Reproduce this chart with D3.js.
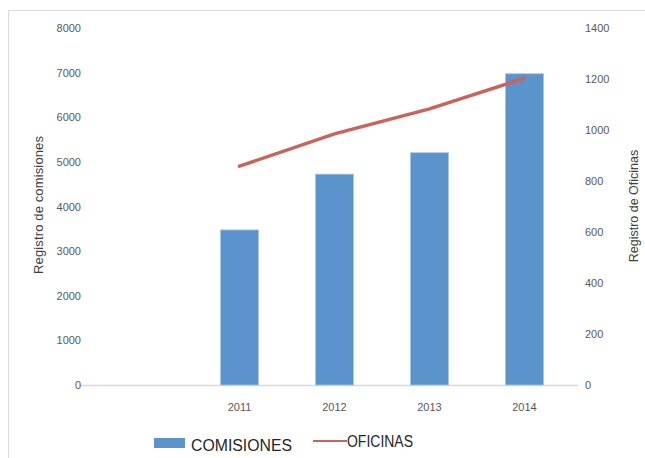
<!DOCTYPE html>
<html>
<head>
<meta charset="utf-8">
<script src="https://cdn.jsdelivr.net/npm/d3@7"></script>
<style>
  body{margin:0;background:#fff;}
  svg text{font-family:"Liberation Sans",Arial,sans-serif;}
</style>
</head>
<body>
<svg id="chart" width="645" height="458"></svg>
<script>
//chart data
var years = ["", "2011", "2012", "2013", "2014"];
var comisiones = [null, 3475, 4725, 5205, 6975];
var oficinas = [null, 858, 985, 1083, 1203];
var leftTicks = [0,1000,2000,3000,4000,5000,6000,7000,8000];
var rightTicks = [0,200,400,600,800,1000,1200,1400];

var svg = d3.select("#chart");

//outer frame (only top and left edges are visible)
svg.append("path")
  .attr("d","M8.5,458 L8.5,10.5 L645,10.5")
  .attr("fill","none")
  .attr("stroke","#d9d9d9");

let x = d3.scaleBand().domain(years).range([97,572]).paddingInner(0.6).paddingOuter(0.3);
let yL = d3.scaleLinear().domain([0,8000]).range([385,28]);
let yR = d3.scaleLinear().domain([0,1400]).range([385,28]);

//baseline
svg.append("line")
  .attr("x1",79).attr("x2",578)
  .attr("y1",yL(0)+0.5).attr("y2",yL(0)+0.5)
  .attr("stroke","#d9d9d9").attr("stroke-width",1.3);

//left ticks
svg.append("g").selectAll("text").data(leftTicks).enter().append("text")
  .attr("x",81)
  .attr("y",d => yL(d)+4)
  .attr("text-anchor","end")
  .attr("font-size",11)
  .attr("fill","#595959")
  .text(d => d);

//right ticks
svg.append("g").selectAll("text").data(rightTicks).enter().append("text")
  .attr("x",585)
  .attr("y",d => yR(d)+4)
  .attr("font-size",11)
  .attr("fill","#595959")
  .text(d => d);

//category labels
svg.append("g").selectAll("text").data(years).enter().append("text")
  .attr("x",d => x(d)+x.bandwidth()/2)
  .attr("y",411)
  .attr("text-anchor","middle")
  .attr("font-size",11)
  .attr("fill","#595959")
  .text(d => d);

//bars
svg.append("g").selectAll("rect").data(years.map((d,i) => [d,comisiones[i]]).filter(d => d[1]!=null))
  .enter().append("rect")
  .attr("x",d => x(d[0]))
  .attr("y",d => yL(d[1]))
  .attr("width",x.bandwidth())
  .attr("height",d => yL(0)-yL(d[1]))
  .attr("fill","#5b93cd")
  .attr("stroke","#a9c4e4")
  .attr("stroke-width",0.8);

//line
let line = d3.line()
  .x(d => x(d[0])+x.bandwidth()/2)
  .y(d => yR(d[1]));

svg.append("path")
  .datum(years.map((d,i) => [d,oficinas[i]]).filter(d => d[1]!=null))
  .attr("d",line)
  .attr("fill","none")
  .attr("stroke","#c8645c")
  .attr("stroke-width",3.5)
  .attr("stroke-linecap","round");

//axis titles
svg.append("text")
  .attr("transform","translate(43,205) rotate(-90)")
  .attr("text-anchor","middle")
  .attr("font-size",13)
  .attr("textLength",138)
  .attr("fill","#404040")
  .text("Registro de comisiones");

svg.append("text")
  .attr("transform","translate(638,206) rotate(-90)")
  .attr("text-anchor","middle")
  .attr("font-size",12.5)
  .attr("fill","#404040")
  .text("Registro de Oficinas");

//legend
svg.append("rect")
  .attr("x",154).attr("y",438).attr("width",31).attr("height",10)
  .attr("fill","#5b93cd");
svg.append("text")
  .attr("x",191).attr("y",451)
  .attr("font-size",16)
  .attr("textLength",101)
  .attr("lengthAdjust","spacingAndGlyphs")
  .attr("fill","#262626")
  .text("COMISIONES");
svg.append("line")
  .attr("x1",313).attr("x2",347).attr("y1",441).attr("y2",441)
  .attr("stroke","#c8645c").attr("stroke-width",2);
svg.append("text")
  .attr("x",347).attr("y",447)
  .attr("font-size",16)
  .attr("textLength",66)
  .attr("lengthAdjust","spacingAndGlyphs")
  .attr("fill","#262626")
  .text("OFICINAS");
</script>
</body>
</html>
